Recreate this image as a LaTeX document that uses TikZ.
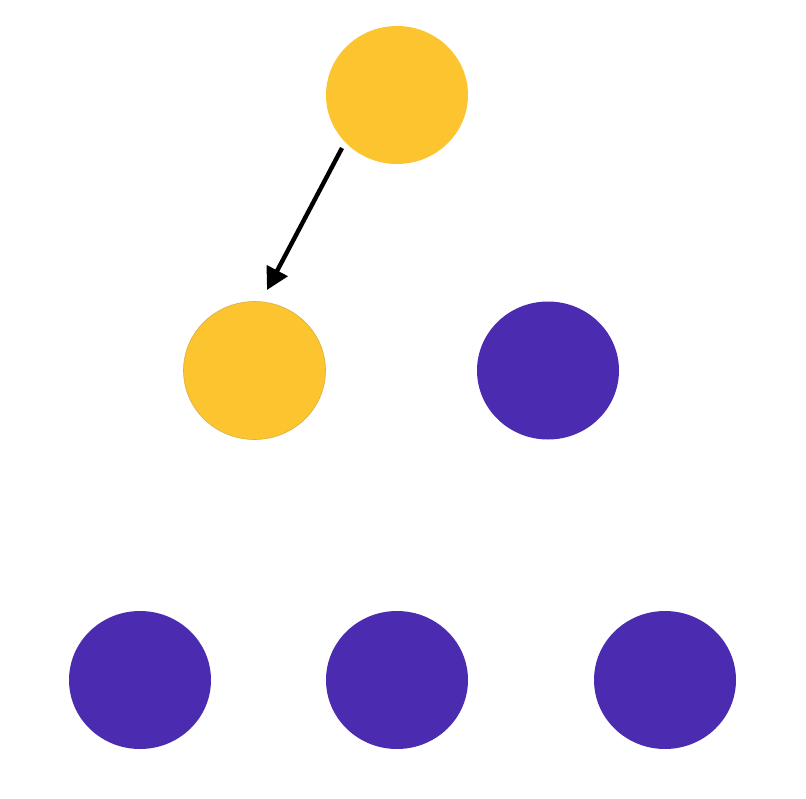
\documentclass[tikz,border=0pt]{standalone}
\usetikzlibrary{arrows.meta,shapes.geometric}
\definecolor{ylw}{HTML}{FCC52F}
\definecolor{prp}{HTML}{4B2CB0}
\begin{document}
\begin{tikzpicture}[x=1pt,y=-1pt,
  dot/.style={ellipse, minimum width=142pt, minimum height=138pt, inner sep=0pt},
  ydot/.style={dot, fill=ylw},
  ydotl/.style={dot, fill=ylw, draw=ylw!70!gray, line width=0.6pt},
  pdot/.style={dot, fill=prp},
  arr/.style={line width=4.4pt, -{Triangle[length=22pt,width=23pt]}}]
\useasboundingbox (0,0) rectangle (806,798);
\node[ydot] (top) at (397,95) {};
\node[ydotl] (ml) at (254.5,370.5) {};
\node[pdot] (mr) at (548,370.5) {};
\node[pdot] (bl) at (140,680) {};
\node[pdot] (bm) at (397,680) {};
\node[pdot] (br) at (665,680) {};
\coordinate (as) at (342,148);
\coordinate (ae) at (267,290);
\draw[arr] (as) -- (ae);
\end{tikzpicture}
\end{document}
